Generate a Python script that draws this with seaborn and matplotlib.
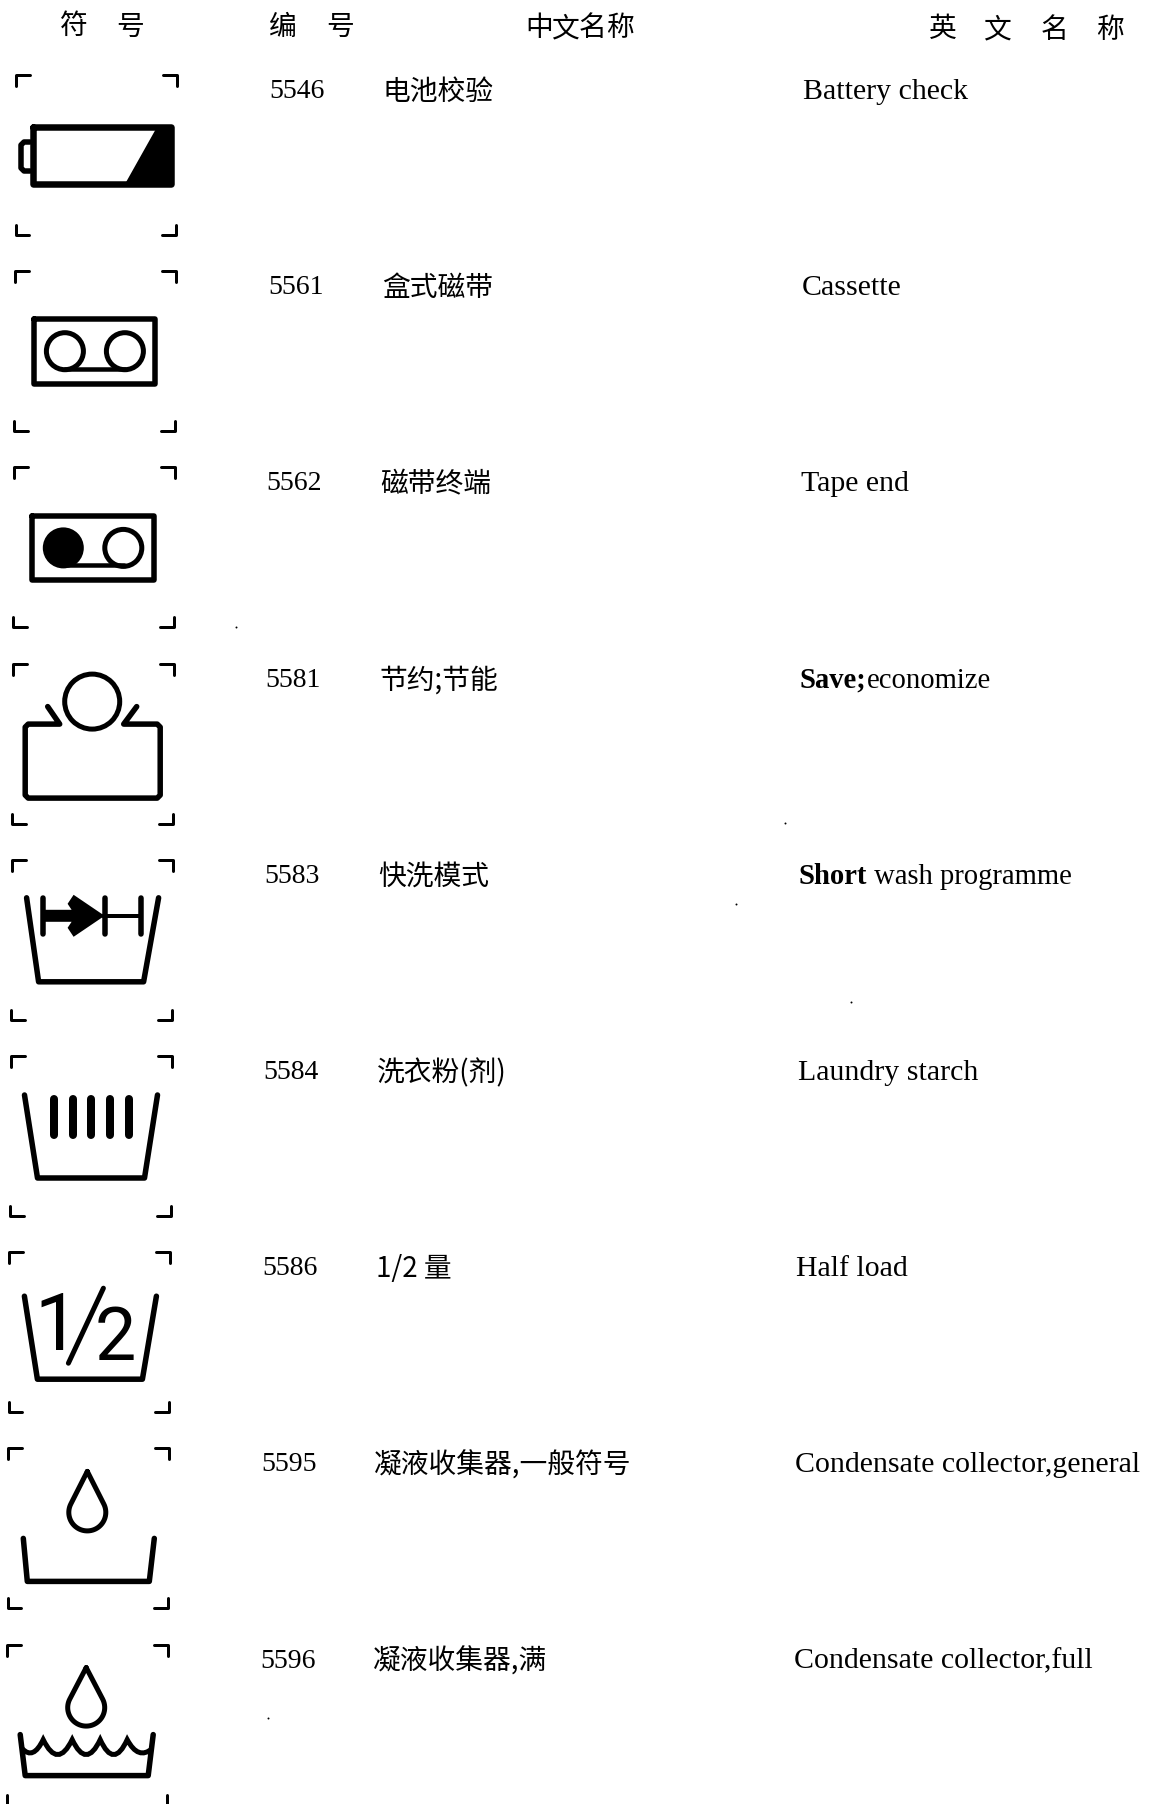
import numpy as np
import pandas as pd
import seaborn as sns
import matplotlib.pyplot as plt
from matplotlib.patches import Circle, PathPatch
from matplotlib.path import Path

# table contents
codes = ['5546', '5561', '5562', '5581', '5583', '5584', '5586', '5595', '5596']
names_cn = ['电池校验', '盒式磁带', '磁带终端', '节约;节能', '快洗模式', '洗衣粉(剂)',
            '1/2 量', '凝液收集器,一般符号', '凝液收集器,满']
names_en_bold = ['', '', '', 'Save;', 'Short', '', '', '', '']
names_en = ['Battery check', 'Cassette', 'Tape end', 'economize', ' wash programme',
            'Laundry starch', 'Half load', 'Condensate collector,general',
            'Condensate collector,full']
header_chars = ['符', '号', '编', '号', '中', '文', '名', '称', '英', '文', '名', '称']
header_x = [73, 130, 283, 340, 539, 566, 593, 620, 943, 998, 1055, 1110]
speck_x = [236, 785, 736, 851, 268]
speck_y = [627, 823, 904, 1002, 1718]

sns.set_theme(style='white')
plt.rcParams['font.family'] = ['Noto Sans CJK SC', 'DejaVu Sans']

fig, ax = plt.subplots(figsize=(11.5, 18.04), dpi=100)
ax.set_position([0, 0, 1, 1])
ax.set_xlim(0, 1150)
ax.set_ylim(1804, 0)
ax.axis('off')

PX = 0.72


def stroke(ox, oy, pts, w=5.5):
    pts = np.array(pts, dtype=float)
    sns.lineplot(x=pts[:, 0] + ox, y=pts[:, 1] + oy, sort=False, estimator=None,
                 color='black', linewidth=w * PX, ax=ax, legend=False)


def ring(ox, oy, cx, cy, r, w=5):
    ax.add_patch(Circle((ox + cx, oy + cy), r, fill=False, ec='black', lw=w * PX))


def solid(ox, oy, pts):
    pts = np.array(pts, dtype=float)
    ax.fill(pts[:, 0] + ox, pts[:, 1] + oy, color='black', lw=0)


def brackets(ox, oy):
    stroke(ox, oy, [(0, 11), (0, 0), (14, 0)], 3)
    stroke(ox, oy, [(147, 0), (161, 0), (161, 11)], 3)
    stroke(ox, oy, [(-0.5, 150), (-0.5, 160), (13, 160)], 3)
    stroke(ox, oy, [(146, 160), (160, 160), (160, 150)], 3)


def drop(ox, oy, cy, tip):
    # teardrop: tangent lines from the tip onto a circle
    r = 18.5
    a = np.arccos(r / (cy - tip))
    t = np.linspace(-np.pi / 2 + a, 3 * np.pi / 2 - a, 50)
    xs = 79 + r * np.cos(t)
    ys = cy + r * np.sin(t)
    pts = [(79, tip)] + list(zip(xs, ys)) + [(79, tip)]
    stroke(ox, oy, pts, 5)


def icon_battery(x, y):
    stroke(x, y, [(17, 52), (155, 52), (155, 109), (17, 109), (17, 52)], 6.5)
    stroke(x, y, [(14, 67), (8, 67), (5, 70), (5, 93), (8, 96), (14, 96)], 5.5)
    solid(x, y, [(141, 52), (155, 52), (155, 109), (109, 109)])


def icon_cassette(x, y):
    stroke(x, y, [(19.5, 47.5), (140.5, 47.5), (140.5, 112.5), (19.5, 112.5), (19.5, 47.5)], 5.5)
    ring(x, y, 50, 80, 18.5, 5)
    ring(x, y, 110, 80, 18.5, 5)
    stroke(x, y, [(50, 98), (110, 98)], 4.5)


def icon_tape_end(x, y):
    stroke(x, y, [(18.5, 48.5), (140.5, 48.5), (140.5, 112.5), (18.5, 112.5), (18.5, 48.5)], 5.5)
    ax.add_patch(Circle((x + 49.5, y + 80.5), 20.5, color='black', lw=0))
    ring(x, y, 109.5, 80.5, 18.5, 5)
    stroke(x, y, [(50, 98), (110, 98)], 4.5)


def icon_save(x, y):
    ring(x, y, 79.5, 38, 27.5, 5)
    stroke(x, y, [(35, 43), (47, 60.5), (15.5, 60.5), (12.5, 63.5), (12.5, 131.5), (15.5, 134.5),
                  (144.5, 134.5), (147.5, 131.5), (147.5, 63.5), (144.5, 60.5), (111, 60.5), (124, 43)], 5.5)


def icon_wash(x, y):
    stroke(x, y, [(15, 38), (27, 122), (132, 122), (147, 38)])
    for u in [31, 93, 129]:
        stroke(x, y, [(u, 38), (u, 74)], 5.5)
    solid(x, y, [(93, 56), (62, 35), (56, 44), (60, 50), (31, 50), (31, 62),
                 (60, 62), (56, 68), (62, 77)])
    stroke(x, y, [(91, 56), (129, 56)], 4)


def icon_starch(x, y):
    stroke(x, y, [(14, 39), (27, 122), (134, 122), (147, 39)])
    for u in [43, 62, 80, 99, 118]:
        stroke(x, y, [(u, 43), (u, 79)], 8)


def icon_half(x, y):
    stroke(x, y, [(15, 44), (28, 127), (133, 127), (147, 44)])
    stroke(x, y, [(94, 36), (59, 111)], 5)
    ax.text(x + 47, y + 98, '1', family='Roboto', fontsize=57, ha='center',
            va='baseline', color='black')
    ax.text(x + 106, y + 108, '2', family='Roboto', fontsize=53, ha='center',
            va='baseline', color='black')


def icon_collector(x, y):
    drop(x, y, 64, 23)
    stroke(x, y, [(15, 90), (19, 133), (141, 133), (146, 90)])


def icon_full(x, y):
    drop(x, y, 63, 23)
    stroke(x, y, [(13, 90), (18, 131), (141, 131), (146, 90)])
    verts = [(15, 104), (26, 116), (36, 95), (50.5, 125), (65, 95), (79, 125), (93, 95),
             (106.5, 125), (120, 95), (131, 116), (145, 104)]
    cmds = [Path.MOVETO] + [Path.CURVE3] * 10
    path = Path([(x + u, y + v) for u, v in verts], cmds)
    ax.add_patch(PathPatch(path, fill=False, ec='black', lw=5 * PX))


icons = [icon_battery, icon_cassette, icon_tape_end, icon_save, icon_wash,
         icon_starch, icon_half, icon_collector, icon_full]

for i, draw in enumerate(icons):
    ox = 16 - 1.1 * i
    oy = 75 + 196.2 * i
    brackets(ox, oy)
    draw(ox, oy)

# header row, the scan tilts slightly downwards to the right
for ch, hx in zip(header_chars, header_x):
    ax.text(hx, 34 + hx * 0.0035, ch, fontsize=20, weight='medium', ha='center',
            va='baseline', color='black')

# body text
table = pd.DataFrame({'code': codes, 'cn': names_cn, 'bold': names_en_bold, 'en': names_en})
renderer = fig.canvas.get_renderer()
for i, row in table.iterrows():
    base = 98 + 196.2 * i
    shift = 1.1 * i
    ax.text(269 - shift, base, row['code'], family='Liberation Serif', fontsize=20,
            va='baseline', color='black')
    ax.text(383 - 1.25 * i, base + 2, row['cn'], fontsize=20, weight='medium',
            va='baseline', color='black')
    tx = 803 - shift
    # the two rows with a bold start run a little narrower in the scan
    size = 20.6 if row['bold'] else 21.5
    if row['bold']:
        t = ax.text(tx, base + 1, row['bold'], family='Liberation Serif', fontsize=size,
                    weight='bold', va='baseline', color='black')
        tx = ax.transData.inverted().transform(t.get_window_extent(renderer).max)[0]
    ax.text(tx, base + 1, row['en'], family='Liberation Serif', fontsize=size,
            va='baseline', color='black')

# scan specks
sns.scatterplot(x=speck_x, y=speck_y, s=2, color='black', linewidth=0, ax=ax, legend=False)
ax.set_xlim(0, 1150)
ax.set_ylim(1804, 0)

fig.savefig('out.png', dpi=100)
